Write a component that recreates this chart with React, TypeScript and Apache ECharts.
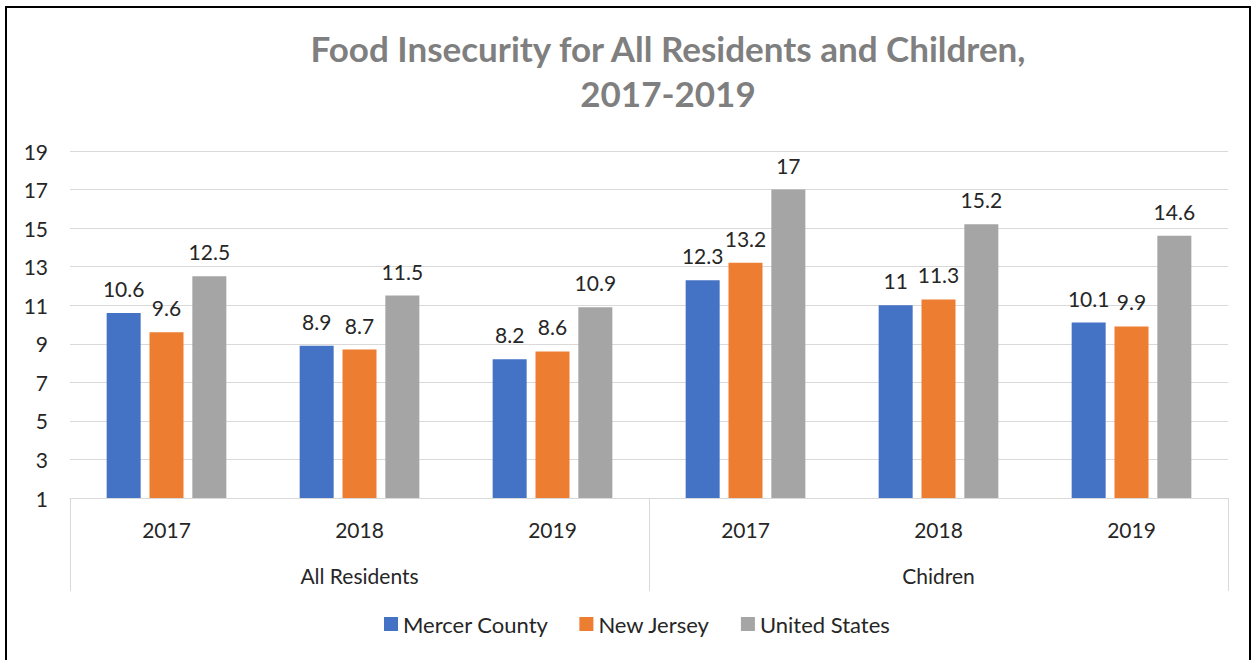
import React, { useEffect, useRef } from "react";
import * as echarts from "echarts";

const years = ["2017", "2018", "2019", "2017", "2018", "2019"];
const groups = ["All Residents", "Chidren"];
const seriesNames = ["Mercer County", "New Jersey", "United States"];
const mercer = [10.6, 8.9, 8.2, 12.3, 11, 10.1];
const newJersey = [9.6, 8.7, 8.6, 13.2, 11.3, 9.9];
const unitedStates = [12.5, 11.5, 10.9, 17, 15.2, 14.6];
const colors = ["#4472C4", "#ED7D31", "#A5A5A5"];
const titleLines = ["Food Insecurity for All Residents and Children,", "2017-2019"];

const FONT = "Lato, 'Open Sans', sans-serif";

export default function App() {
  const ref = useRef<HTMLDivElement>(null);
  useEffect(() => {
    if (!ref.current) return;
    const chart = echarts.init(ref.current, null, { renderer: "svg" });
    const values = [mercer, newJersey, unitedStates];
    chart.setOption({
      animation: false,
      backgroundColor: "#ffffff",
      textStyle: { fontFamily: FONT },
      legend: {
        bottom: 20,
        left: 379,
        itemWidth: 14,
        itemHeight: 14,
        itemGap: 31,
        icon: "rect",
        textStyle: { fontFamily: FONT, fontSize: 22, color: "#262626" },
        data: seriesNames,
      },
      grid: { left: 70, right: 25, top: 151, bottom: 162 },
      xAxis: [
        {
          type: "category",
          data: years,
          position: "bottom",
          axisLine: { show: true, lineStyle: { color: "#d9d9d9", width: 1 } },
          axisTick: { show: false },
          axisLabel: { margin: 21, fontSize: 21, color: "#262626", fontFamily: FONT },
        },
        {
          type: "category",
          data: groups,
          position: "bottom",
          axisLine: { show: false },
          axisTick: { show: true, length: 93, lineStyle: { color: "#d9d9d9", width: 1 } },
          axisLabel: { margin: 67, fontSize: 21, color: "#262626", fontFamily: FONT },
        },
      ],
      yAxis: {
        type: "value",
        min: 1,
        max: 19,
        interval: 2,
        axisLine: { show: false },
        axisTick: { show: false },
        axisLabel: { fontSize: 21, color: "#262626", margin: 22, fontFamily: FONT },
        splitLine: { lineStyle: { color: "#d9d9d9", width: 1 } },
      },
      series: seriesNames.map((name, i) => ({
        name,
        type: "bar",
        xAxisIndex: 0,
        data: values[i],
        barWidth: 34,
        barGap: "26%",
        itemStyle: { color: colors[i] },
        label: {
          show: true,
          position: "top",
          distance: 14,
          fontSize: 21,
          color: "#262626",
          fontFamily: FONT,
        },
      })),
      graphic: [
        {
          type: "rect",
          shape: { x: 6, y: 7, width: 1244, height: 660 },
          style: { fill: "none", stroke: "#000", lineWidth: 2 },
          silent: true,
        },
        {
          type: "text",
          x: 668,
          y: 25,
          silent: true,
          style: {
            text: titleLines.join("\n"),
            align: "center",
            verticalAlign: "top",
            font: `bold 35px ${FONT}`,
            lineHeight: 45,
            fill: "#7f7f7f",
          },
        },
      ],
    });
    return () => chart.dispose();
  }, []);
  return (
    <div
      ref={ref}
      style={{ position: "absolute", left: 0, top: 0, width: 1253, height: 660 }}
    />
  );
}
